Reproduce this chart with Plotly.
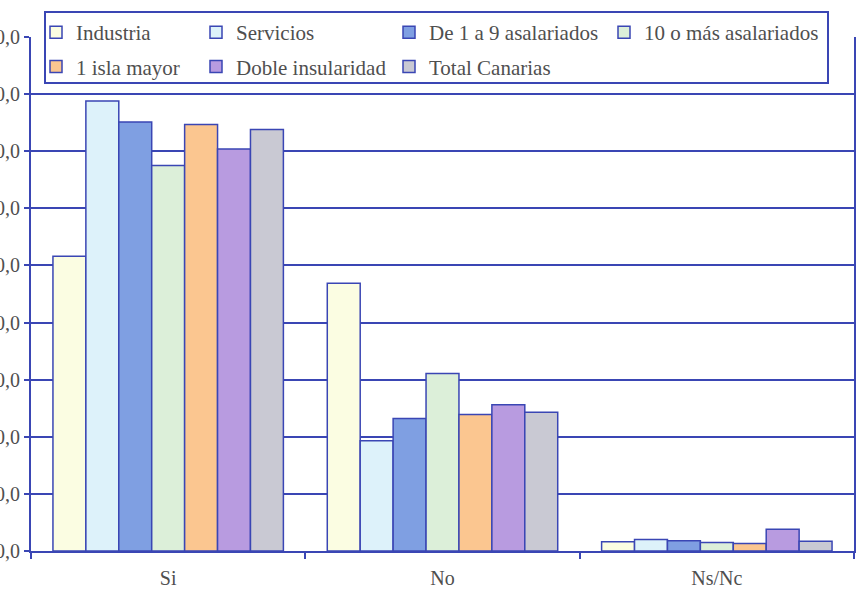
import plotly.graph_objects as go

# Survey answers by company group (percent of respondents)
categories = ["Si", "No", "Ns/Nc"]
series_names = [
    "Industria",
    "Servicios",
    "De 1 a 9 asalariados",
    "10 o más asalariados",
    "1 isla mayor",
    "Doble insularidad",
    "Total Canarias",
]
industria = [51.6, 46.9, 1.6]
servicios = [78.8, 19.3, 2.0]
de_1_a_9 = [75.1, 23.2, 1.8]
diez_o_mas = [67.5, 31.1, 1.5]
isla_mayor = [74.7, 23.9, 1.3]
doble_insularidad = [70.4, 25.6, 3.8]
total_canarias = [73.8, 24.3, 1.7]

series_values = [industria, servicios, de_1_a_9, diez_o_mas,
                 isla_mayor, doble_insularidad, total_canarias]
fill_colors = ["#fbfde2", "#ddf2fa", "#7f9fe2", "#dcefd9",
               "#fbc690", "#b89be0", "#c9c9d3"]
# legend column each series sits in (two rows, four columns)
legend_ids = ["legend", "legend2", "legend3", "legend4",
              "legend", "legend2", "legend3"]

INK = "#3a46b4"
TEXT = "#4f4f4f"
FONT = "'Liberation Serif', 'DejaVu Serif', serif"

fig = go.Figure()
for name, vals, col, lg in zip(series_names, series_values, fill_colors, legend_ids):
    fig.add_trace(go.Bar(
        x=categories, y=vals, name=name,
        marker=dict(color=col, line=dict(color=INK, width=1.5)),
        legend=lg, legendgroup=name,
    ))

W, H = 857, 592
ml, mr, mt, mb = 31, 3, 37, 41
pw, ph = W - ml - mr, H - mt - mb


def px_x(p):
    return (p - ml) / pw


def px_y(p):
    return 1 - (p - mt) / ph


legend_common = dict(
    bgcolor="rgba(0,0,0,0)", borderwidth=0,
    font=dict(family=FONT, size=21, color=TEXT),
    orientation="v", yanchor="top", xanchor="left",
    tracegroupgap=4, itemclick=False,
)
col_left = [36, 196, 389, 604]
legend_layout = {}
for i, key in enumerate(["legend", "legend2", "legend3", "legend4"]):
    legend_layout[key] = dict(legend_common, x=px_x(col_left[i]), y=px_y(12))

fig.update_layout(
    width=W, height=H,
    margin=dict(l=ml, r=mr, t=mt, b=mb),
    paper_bgcolor="white", plot_bgcolor="white",
    separators=",.",
    barmode="group", bargap=0.16, bargroupgap=0,
    showlegend=True,
    font=dict(family=FONT, color=TEXT),
    shapes=[dict(
        type="rect", xref="paper", yref="paper", layer="above",
        x0=px_x(45), x1=px_x(828), y0=px_y(83), y1=px_y(12),
        fillcolor="white", line=dict(color=INK, width=2),
    )],
    **legend_layout,
)

fig.update_yaxes(
    range=[0, 90], dtick=10, tickformat=".1f",
    showgrid=True, gridcolor=INK, gridwidth=1.5,
    showline=True, linecolor=INK, linewidth=2, mirror=True,
    ticks="outside", ticklen=5, tickcolor=INK, tickwidth=2,
    tickfont=dict(family=FONT, size=20, color=TEXT),
    zeroline=False, automargin=False,
)
fig.update_xaxes(
    showline=True, linecolor=INK, linewidth=2,
    ticks="outside", tickson="boundaries", ticklen=6, tickcolor=INK, tickwidth=2,
    tickfont=dict(family=FONT, size=20, color=TEXT),
    ticklabelstandoff=8, automargin=False,
)

fig.write_html("out.html")
